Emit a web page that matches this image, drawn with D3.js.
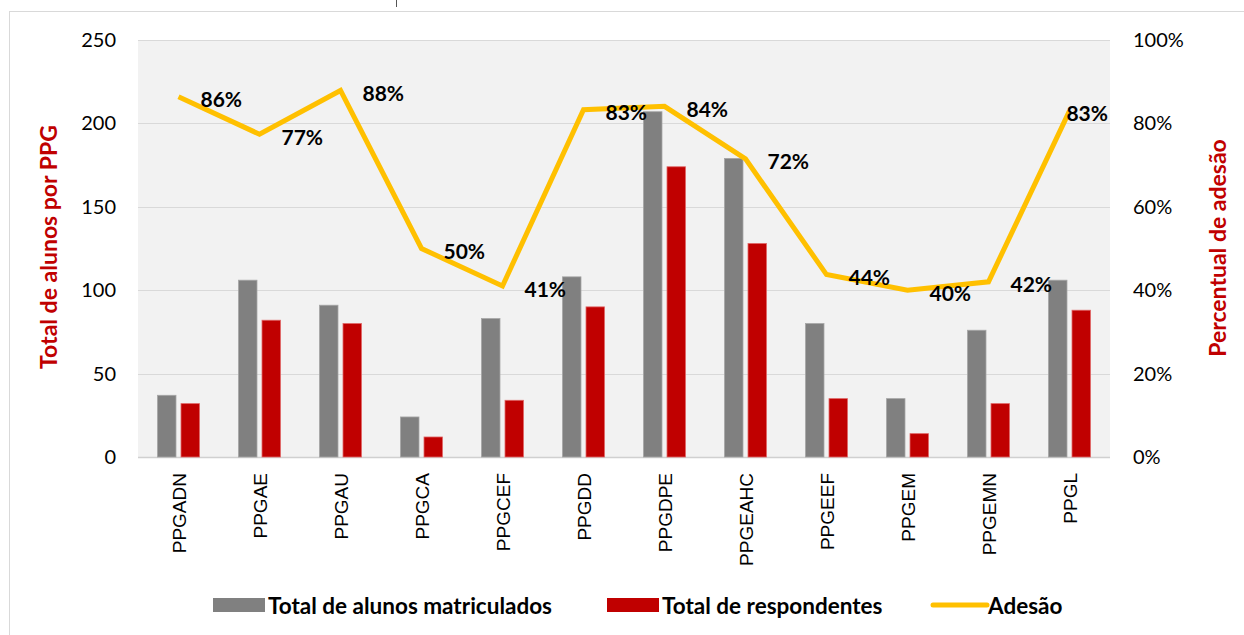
<!DOCTYPE html>
<html>
<head>
<meta charset="utf-8">
<script src="https://cdn.jsdelivr.net/npm/d3@7/dist/d3.min.js"></script>
<style>
  html, body { margin: 0; padding: 0; background: #fff; }
  svg { display: block; }
</style>
</head>
<body>
<svg id="chart" width="1244" height="635"></svg>
<script>
// --- data ---
var categories = ['PPGADN', 'PPGAE', 'PPGAU', 'PPGCA', 'PPGCEF', 'PPGDD',
                  'PPGDPE', 'PPGEAHC', 'PPGEEF', 'PPGEM', 'PPGEMN', 'PPGL'];
var matriculados = [37, 106, 91, 24, 83, 108, 207, 179, 80, 35, 76, 106];
var respondentes = [32, 82, 80, 12, 34, 90, 174, 128, 35, 14, 32, 88];
var adesao = [0.864, 0.774, 0.879, 0.50, 0.41, 0.833, 0.841, 0.715, 0.4375, 0.40, 0.42, 0.83];
var leftTicks = [0, 50, 100, 150, 200, 250];
var rightTicks = [0, 0.2, 0.4, 0.6, 0.8, 1];

var seriesNames = ['Total de alunos matriculados', 'Total de respondentes', 'Adesão'];
var colors = { mat: '#808080', resp: '#c00000', line: '#ffc000' };

var svg = d3.select('#chart');
var plot = { left: 138, right: 1110, top: 40, bottom: 457 };
var calibri = 'Lato, "Open Sans", sans-serif';

// outer chart frame
svg.append('rect')
    .attr('x', 9.5).attr('y', 11.5)
    .attr('width', 1244).attr('height', 640)
    .attr('fill', '#fff').attr('stroke', '#d9d9d9');

// small caret mark at the top edge
svg.append('line')
    .attr('x1', 396.5).attr('x2', 396.5).attr('y1', 0).attr('y2', 7)
    .attr('stroke', '#555');

var x0 = d3.scaleBand().domain(categories).range([plot.left, plot.right]);
var x1 = d3.scaleBand().domain(['mat', 'resp']).range([0, 42]).paddingInner(0.213);
var yL = d3.scaleLinear().domain([0, 250]).range([plot.bottom, plot.top]);
var yR = d3.scaleLinear().domain([0, 1]).range([plot.bottom, plot.top]);
var groupOff = (x0.bandwidth() - 42) / 2;

// plot area background
svg.append('rect')
    .attr('x', plot.left).attr('y', plot.top)
    .attr('width', plot.right - plot.left).attr('height', plot.bottom - plot.top)
    .attr('fill', '#f2f2f2');

// gridlines
svg.append('g').selectAll('line')
    .data(leftTicks)
    .join('line')
    .attr('x1', plot.left).attr('x2', plot.right)
    .attr('y1', function (d) { return Math.round(yL(d)) + 0.5; })
    .attr('y2', function (d) { return Math.round(yL(d)) + 0.5; })
    .attr('stroke', function (d) { return d === 0 ? '#d0d0d0' : '#d9d9d9'; })
    .attr('stroke-width', function (d) { return d === 0 ? 1.5 : 1; });

// left axis
var axL = svg.append('g')
    .attr('transform', 'translate(' + (plot.left - 22) + ',0)')
    .call(d3.axisLeft(yL).tickValues(leftTicks).tickSize(0).tickPadding(0));
axL.select('.domain').remove();
axL.selectAll('text')
    .attr('font-family', calibri).attr('font-size', 20).attr('fill', '#000');

// right axis
var axR = svg.append('g')
    .attr('transform', 'translate(1133,0)')
    .call(d3.axisRight(yR).tickValues(rightTicks).tickFormat(d3.format('.0%')).tickSize(0).tickPadding(0));
axR.select('.domain').remove();
axR.selectAll('text')
    .attr('font-family', calibri).attr('font-size', 20).attr('fill', '#000');

// category labels (rotated)
svg.append('g').selectAll('text')
    .data(categories)
    .join('text')
    .attr('transform', function (d) {
        return 'translate(' + (x0(d) + x0.bandwidth() / 2 + 7) + ',473) rotate(-90)';
    })
    .attr('text-anchor', 'end')
    .attr('font-family', '"Liberation Sans", Arial, sans-serif')
    .attr('font-size', 19)
    .attr('fill', '#000')
    .text(function (d) { return d; });

// axis titles
svg.append('text')
    .attr('transform', 'translate(57,247) rotate(-90)')
    .attr('text-anchor', 'middle')
    .attr('font-family', calibri).attr('font-weight', 'bold').attr('font-size', 23)
    .attr('fill', colors.resp)
    .text('Total de alunos por PPG');
svg.append('text')
    .attr('transform', 'translate(1226,248) rotate(-90)')
    .attr('text-anchor', 'middle')
    .attr('font-family', calibri).attr('font-weight', 'bold').attr('font-size', 23)
    .attr('fill', colors.resp)
    .text('Percentual de adesão');

// bars
var groups = svg.append('g').selectAll('g')
    .data(categories)
    .join('g')
    .attr('transform', function (d) { return 'translate(' + (x0(d) + groupOff) + ',0)'; });

groups.append('rect')
    .attr('x', x1('mat'))
    .attr('width', x1.bandwidth())
    .attr('y', function (d, i) { return yL(matriculados[i]); })
    .attr('height', function (d, i) { return plot.bottom - yL(matriculados[i]); })
    .attr('fill', colors.mat).attr('stroke', '#a6a6a6').attr('stroke-width', 0.8);

groups.append('rect')
    .attr('x', x1('resp'))
    .attr('width', x1.bandwidth())
    .attr('y', function (d, i) { return yL(respondentes[i]); })
    .attr('height', function (d, i) { return plot.bottom - yL(respondentes[i]); })
    .attr('fill', colors.resp).attr('stroke', '#e06666').attr('stroke-width', 0.8);

// adesão line
var linePts = categories.map(function (c, i) {
    return [x0(c) + x0.bandwidth() / 2, yR(adesao[i])];
});
svg.append('path')
    .datum(linePts)
    .attr('d', d3.line())
    .attr('fill', 'none')
    .attr('stroke', colors.line)
    .attr('stroke-width', 5)
    .attr('stroke-linejoin', 'miter');

// data labels, to the right of each point, pushed back inside the plot
svg.append('g').selectAll('text')
    .data(linePts)
    .join('text')
    .attr('x', function (d) { return d[0] + 22; })
    .attr('y', function (d) { return d[1] + 2; })
    .attr('dominant-baseline', 'central')
    .attr('font-family', calibri).attr('font-weight', 'bold').attr('font-size', 21)
    .attr('fill', '#000')
    .text(function (d, i) { return d3.format('.0%')(adesao[i]); })
    .each(function (d) {
        var w = this.getComputedTextLength();
        if (d[0] + 22 + w > plot.right - 2) {
            d3.select(this).attr('x', plot.right - 2 - w);
        }
    });

// legend
var legend = svg.append('g').attr('font-family', calibri)
    .attr('font-weight', 'bold').attr('font-size', 22.5);
var legItems = [
    { x: 213, type: 'rect', color: colors.mat, label: seriesNames[0] },
    { x: 607, type: 'rect', color: colors.resp, label: seriesNames[1] },
    { x: 933, type: 'line', color: colors.line, label: seriesNames[2] }
];
legItems.forEach(function (it) {
    if (it.type === 'rect') {
        legend.append('rect')
            .attr('x', it.x).attr('y', 598).attr('width', 52).attr('height', 14)
            .attr('fill', it.color);
    } else {
        legend.append('line')
            .attr('x1', it.x).attr('x2', it.x + 54).attr('y1', 605).attr('y2', 605)
            .attr('stroke', it.color).attr('stroke-width', 5).attr('stroke-linecap', 'round');
    }
    legend.append('text')
        .attr('x', it.x + 55).attr('y', 605)
        .attr('dominant-baseline', 'central')
        .attr('fill', '#000')
        .text(it.label);
});
</script>
</body>
</html>
